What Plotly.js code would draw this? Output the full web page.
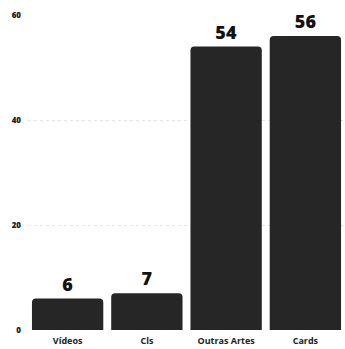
<!DOCTYPE html>
<html>
<head>
<meta charset="utf-8">
<script src="https://cdn.plot.ly/plotly-3.0.1.min.js"></script>
<style>html,body{margin:0;padding:0;background:#fff;}#chart{width:345px;height:349px;}</style>
</head>
<body>
<div id="chart"></div>
<script>
const categories = ["Vídeos", "Cls", "Outras Artes", "Cards"];
const values = [6, 7, 54, 56];
const tickVals = [0, 20, 40, 60];

Plotly.newPlot("chart", [{
  type: "bar",
  x: categories,
  y: values,
  text: values.map(String),
  textposition: "outside",
  cliponaxis: false,
  textfont: {family: "Open Sans", size: 18, color: "#111", weight: 800},
  marker: {color: "#262626", cornerradius: 4},
  width: 0.9
}], {
  width: 345, height: 349,
  margin: {l: 28, r: 0, t: 15, b: 19},
  paper_bgcolor: "#fff", plot_bgcolor: "#fff",
  showlegend: false,
  xaxis: {
    showgrid: false, zeroline: false, showline: false,
    tickfont: {family: "Open Sans", size: 9, color: "#222", weight: 700},
    ticks: "", ticklabelstandoff: 4
  },
  yaxis: {
    range: [0, 60],
    tickvals: tickVals,
    showgrid: true, gridcolor: "#e4e4e4", griddash: "dot", gridwidth: 1,
    zeroline: false, showline: false,
    tickfont: {family: "Open Sans", size: 8, color: "#222", weight: 800},
    ticks: "", ticklabelstandoff: 6
  }
}, {displayModeBar: false, staticPlot: true});
</script>
</body>
</html>
